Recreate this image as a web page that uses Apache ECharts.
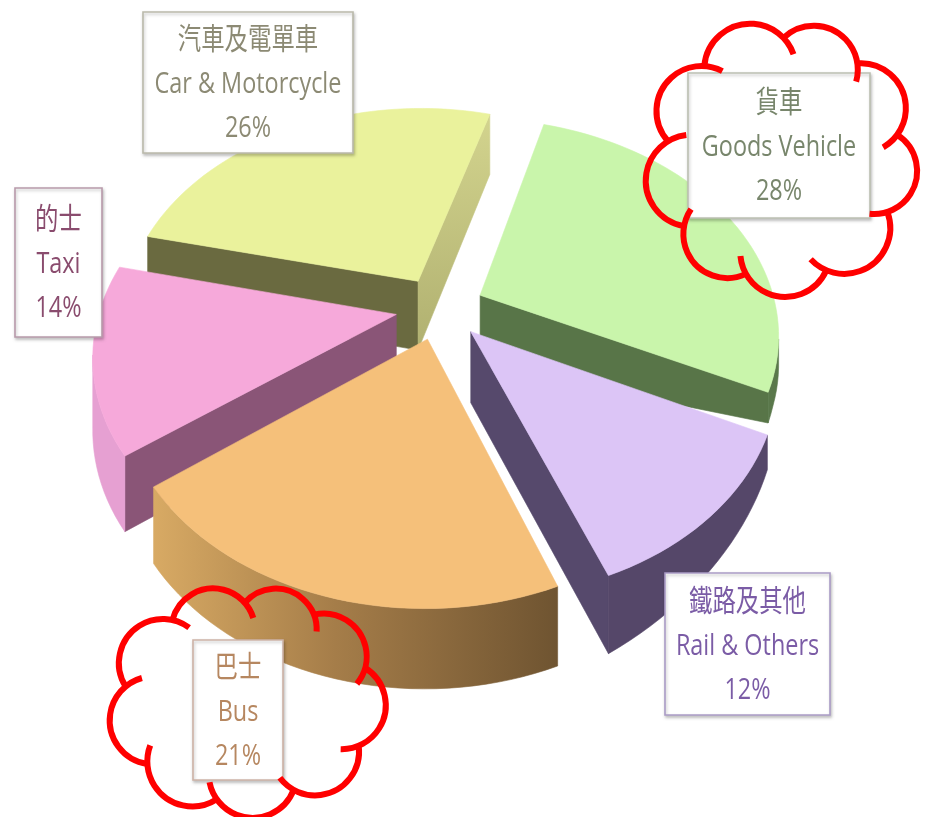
<!DOCTYPE html>
<html>
<head>
<meta charset="utf-8">
<script src="https://cdn.jsdelivr.net/npm/echarts@6/dist/echarts.min.js"></script>
<style>
  html, body { margin: 0; padding: 0; background: #ffffff; }
  #chart { width: 926px; height: 817px; }
</style>
</head>
<body>
<div id="chart"></div>
<script>
// Share of transport modes (%), clockwise starting from goods vehicles
const modesZh = ['貨車', '鐵路及其他', '巴士', '的士', '汽車及電單車'];
const modesEn = ['Goods Vehicle', 'Rail & Others', 'Bus', 'Taxi', 'Car & Motorcycle'];
const shares = [28, 12, 21, 14, 26];

// ---- styling -------------------------------------------------------------
const topColors      = ['#c9f5ab', '#dcc5f6', '#f5c07a', '#f6a9da', '#eaf29c'];
const cutStartColors = ['#587548', '#56496c', '#8f6a3d', '#8a5577', '#6a6a40'];
const cutEndColors   = ['#587548', '#56496c', '#8f6a3d', '#8a5577',
  new echarts.graphic.LinearGradient(0, 0, 0, 1, [{ offset: 0, color: '#d3d48e' }, { offset: 1, color: '#b0b070' }])];
const rimColors = ['#5a784b', '#554769',
  new echarts.graphic.LinearGradient(0, 0, 1, 0, [
    { offset: 0, color: '#d8aa64' }, { offset: 0.45, color: '#a57d49' }, { offset: 1, color: '#6f5431' }]),
  '#e6a0d2', '#6a6a40'];
const textColors   = ['#78866c', '#7b5ca6', '#b68760', '#8a4c6e', '#8c8a74'];
const borderColors = ['#bcc0b2', '#aa9cc6', '#cdb2a6', '#b89aab', '#bab9aa'];

// caption boxes: left, top, width, height
const labelBoxes = [
  [688, 73, 182, 145],
  [665, 573, 165, 142],
  [193, 640, 90, 140],
  [15, 188, 87, 149],
  [143, 12, 210, 141]
];

// ---- perspective of the tilted disc ---------------------------------------
const CX = 440, CY = 308;      // screen position of the disc centre
const A = 296, B = 211;        // horizontal / vertical radius scale
const K = 0.172;               // perspective strength (front is larger)
const START_DEG = -74;         // angle of the first slice edge
const EXPLODE = 0.15;          // radial offset of every slice

function proj(u, v) {
  const w = 1 - K * v;
  return [CX + A * u / w, CY + B * v / w];
}
// slab thickness in pixels at a disc point (thinner towards the right rim)
function thickness(u, v) {
  return Math.max(28, 70 + 9 * v - 40 * Math.max(0, u - 0.45) / 0.55);
}

const TOTAL = shares.reduce((a, b) => a + b, 0);
const bounds = [];
(function () {
  let acc = START_DEG;
  shares.forEach(s => {
    const span = s / TOTAL * 360;
    bounds.push([acc, acc + span]);
    acc += span;
  });
})();
// paint order: slices further back first
const order = bounds.map((b, i) => ({ i, f: Math.sin((b[0] + b[1]) / 2 * Math.PI / 180) }))
  .sort((a, b) => a.f - b.f);
const rank = [];
order.forEach((o, r) => { rank[o.i] = r; });

function renderSlice(params, api) {
  const i = params.dataIndex;
  const a1 = bounds[i][0] * Math.PI / 180;
  const a2 = bounds[i][1] * Math.PI / 180;
  const mid = (a1 + a2) / 2;
  const cu = EXPLODE * Math.cos(mid), cv = EXPLODE * Math.sin(mid);
  const N = Math.max(8, Math.ceil((bounds[i][1] - bounds[i][0]) / 2));
  const uv = [[cu, cv]];
  for (let t = 0; t <= N; t++) {
    const th = a1 + (a2 - a1) * t / N;
    uv.push([cu + Math.cos(th), cv + Math.sin(th)]);
  }
  const top = uv.map(p => proj(p[0], p[1]));
  const bot = uv.map((p, k) => [top[k][0], top[k][1] + thickness(p[0], p[1])]);
  let gx = 0, gy = 0;
  top.forEach(p => { gx += p[0]; gy += p[1]; });
  gx /= top.length; gy /= top.length;

  function facing(a, b) {
    const ex = b[0] - a[0], ey = b[1] - a[1];
    let nx = ey, ny = -ex;
    const mx = (a[0] + b[0]) / 2 - gx, my = (a[1] + b[1]) / 2 - gy;
    if (nx * mx + ny * my < 0) { nx = -nx; ny = -ny; }
    return ny / (Math.hypot(nx, ny) || 1);
  }
  function face(points, fill, z2) {
    return {
      type: 'polygon',
      shape: { points },
      style: { fill, stroke: fill, lineWidth: 0.6 },
      z2
    };
  }
  const base = rank[i] * 10;
  const children = [];
  const last = N + 1;
  // cut face along the first edge
  if (facing(top[0], top[1]) > 0.01) {
    children.push(face([top[0], top[1], bot[1], bot[0]], cutStartColors[i], base + 1));
  }
  // cut face along the closing edge
  if (facing(top[last], top[0]) > 0.01) {
    children.push(face([top[last], top[0], bot[0], bot[last]], cutEndColors[i], base + 1));
  }
  // outer curved wall, only the part turned towards the viewer
  let k0 = -1, k1 = -1;
  for (let k = 1; k < last; k++) {
    if (facing(top[k], top[k + 1]) > 0) {
      if (k0 < 0) k0 = k;
      k1 = k + 1;
    }
  }
  if (k0 > 0) {
    const pts = [];
    for (let k = k0; k <= k1; k++) pts.push(top[k]);
    for (let k = k1; k >= k0; k--) pts.push(bot[k]);
    children.push(face(pts, rimColors[i], base + 2));
  }
  // upper face
  children.push(face(top, topColors[i], base + 5));
  return { type: 'group', children };
}

// ---- caption boxes --------------------------------------------------------
const FONT = '"Open Sans", "Noto Sans CJK TC", sans-serif';
const captions = [];
shares.forEach((s, i) => {
  const [x, y, w, h] = labelBoxes[i];
  captions.push({
    type: 'rect',
    shape: { x, y, width: w, height: h },
    style: {
      fill: '#ffffff', stroke: borderColors[i], lineWidth: 1.6,
      shadowColor: 'rgba(0,0,0,0.22)', shadowBlur: 3, shadowOffsetX: 1, shadowOffsetY: 2
    },
    z: 100
  });
  captions.push({
    type: 'text',
    x: x + w / 2,
    y: y + h / 2 + 2,
    scaleX: 0.78,
    style: {
      text: modesZh[i] + '\n' + modesEn[i] + '\n' + s + '%',
      fill: textColors[i],
      fontSize: 30,
      fontFamily: FONT,
      align: 'center',
      verticalAlign: 'middle',
      lineHeight: 44
    },
    z: 101
  });
});

// ---- red highlight clouds -------------------------------------------------
function cloud(cx, cy, rx, ry, angles, radii) {
  const n = angles.length;
  const cs = angles.map((a, k) => {
    const t = a * Math.PI / 180;
    return [cx + rx * Math.cos(t), cy + ry * Math.sin(t), radii[k]];
  });
  function outerCross(c1, c2) {
    const dx = c2[0] - c1[0], dy = c2[1] - c1[1];
    const d = Math.hypot(dx, dy);
    const a = (c1[2] * c1[2] - c2[2] * c2[2] + d * d) / (2 * d);
    const hh = Math.sqrt(Math.max(0, c1[2] * c1[2] - a * a));
    const px = c1[0] + a * dx / d, py = c1[1] + a * dy / d;
    const p = [px - hh * dy / d, py + hh * dx / d];
    const q = [px + hh * dy / d, py - hh * dx / d];
    const dp = Math.hypot(p[0] - cx, p[1] - cy), dq = Math.hypot(q[0] - cx, q[1] - cy);
    return dp > dq ? p : q;
  }
  const arcs = [];
  for (let k = 0; k < n; k++) {
    const prev = cs[(k - 1 + n) % n], cur = cs[k], next = cs[(k + 1) % n];
    const p0 = outerCross(prev, cur), p1 = outerCross(cur, next);
    const s = Math.atan2(p0[1] - cur[1], p0[0] - cur[0]);
    let e = Math.atan2(p1[1] - cur[1], p1[0] - cur[0]) + 0.42;
    while (e < s) e += Math.PI * 2;
    arcs.push({
      type: 'arc',
      shape: { cx: cur[0], cy: cur[1], r: cur[2], startAngle: s, endAngle: e, clockwise: true },
      style: { stroke: '#ff0000', lineWidth: 6, fill: 'none', lineCap: 'butt' },
      z: 120
    });
  }
  return arcs;
}

const clouds = [].concat(
  cloud(782, 158, 93, 94,
    [-150, -110, -70, -32, 8, 48, 88, 126, 166],
    [45, 46, 44, 45, 43, 46, 45, 44, 46]),
  cloud(246, 700, 96, 74,
    [-150, -110, -72, -36, 4, 44, 86, 124, 164],
    [44, 42, 41, 43, 44, 44, 44, 45, 44])
);

const chart = echarts.init(document.getElementById('chart'), null, { renderer: 'canvas' });
chart.setOption({
  backgroundColor: '#ffffff',
  animation: false,
  series: [{
    type: 'custom',
    coordinateSystem: 'none',
    data: shares.map((s, i) => ({ name: modesEn[i], value: s })),
    renderItem: renderSlice,
    silent: true
  }],
  graphic: { elements: captions.concat(clouds) }
});
</script>
</body>
</html>
